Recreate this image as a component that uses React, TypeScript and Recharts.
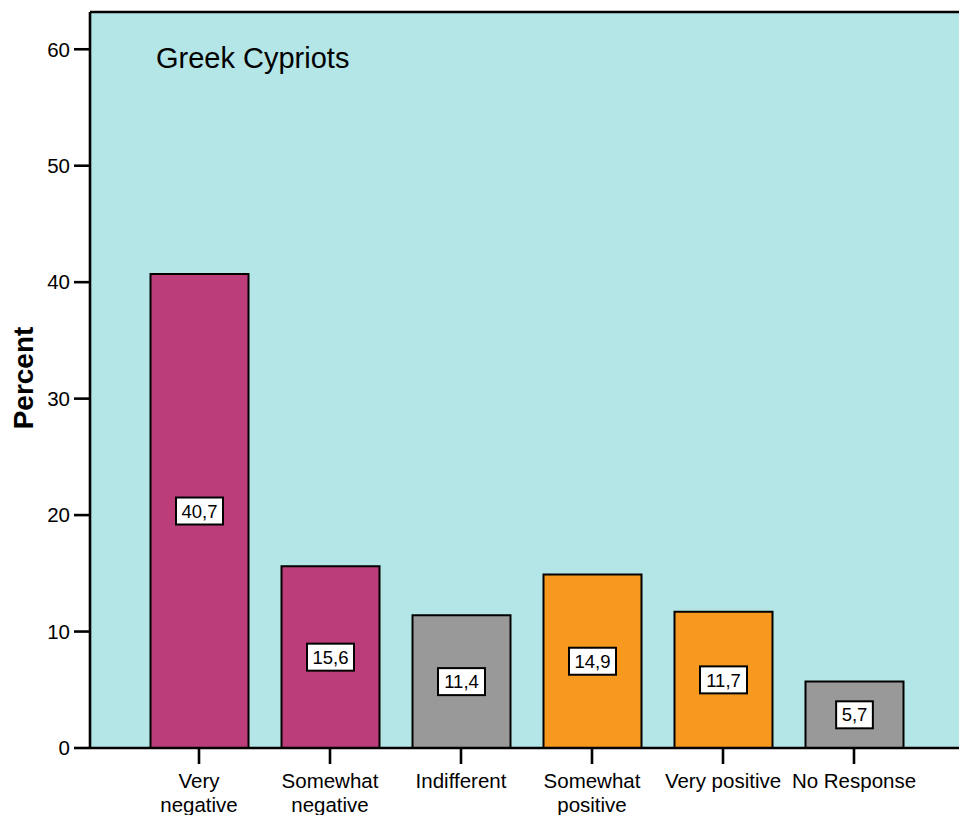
import React from "react";
import {
  BarChart,
  Bar,
  XAxis,
  YAxis,
  CartesianGrid,
  Cell,
  LabelList,
  ReferenceLine,
} from "recharts";

// Survey answers, share of respondents in percent
const categories = [
  "Very negative",
  "Somewhat negative",
  "Indifferent",
  "Somewhat positive",
  "Very positive",
  "No Response",
];
const percents = [40.7, 15.6, 11.4, 14.9, 11.7, 5.7];
const tickLines = [
  ["Very", "negative"],
  ["Somewhat", "negative"],
  ["Indifferent"],
  ["Somewhat", "positive"],
  ["Very positive"],
  ["No Response"],
];
const yTicks = [0, 10, 20, 30, 40, 50, 60];
const title = "Greek Cypriots";
const yTitle = "Percent";

const MAGENTA = "#BB3E7B";
const GRAY = "#999999";
const ORANGE = "#F7991F";
const barColors = [MAGENTA, MAGENTA, GRAY, ORANGE, ORANGE, GRAY];

const FONT = "'Liberation Sans', Arial, Helvetica, sans-serif";
const Y_MAX = 63.2;
const TICK_FS = 20.5;

const data = categories.map((name, i) => ({ name, value: percents[i], idx: i }));

const CategoryTick = (props: any) => {
  const { x, y, index } = props;
  const lines = tickLines[index] || [categories[index]];
  return (
    <text
      x={x}
      y={y}
      textAnchor="middle"
      fontFamily={FONT}
      fontSize={TICK_FS}
      fill="#000"
    >
      {lines.map((ln, i) => (
        <tspan key={i} x={x} dy={i === 0 ? 22 : 23.5}>
          {ln}
        </tspan>
      ))}
    </text>
  );
};

const ValueBox = (props: any) => {
  const { x, y, width, height, value } = props;
  const text = Number(value).toFixed(1).replace(".", ",");
  const fs = 18.5;
  let w = 0;
  for (const ch of text) w += ch === "," ? 0.278 * fs : 0.556 * fs;
  const bw = w + 11;
  const bh = 27;
  const cx = x + width / 2;
  const cy = y + height / 2;
  return (
    <g>
      <rect
        x={cx - bw / 2}
        y={cy - bh / 2}
        width={bw}
        height={bh}
        fill="#fff"
        stroke="#000"
        strokeWidth={2}
      />
      <text
        x={cx}
        y={cy + fs * 0.36}
        textAnchor="middle"
        fontFamily={FONT}
        fontSize={fs}
        fill="#000"
      >
        {text}
      </text>
    </g>
  );
};

export default function App() {
  return (
    <div
      style={{
        position: "fixed",
        left: 0,
        top: 0,
        width: 959,
        height: 815,
        overflow: "hidden",
        background: "#fff",
      }}
    >
      <BarChart
        width={1010}
        height={860}
        data={data}
        margin={{ top: 12, right: 46, bottom: 52, left: 0 }}
        barSize={98}
      >
        <CartesianGrid
          fill="#B4E6E7"
          fillOpacity={1}
          horizontal={false}
          vertical={false}
          stroke="none"
        />
        <XAxis
          dataKey="name"
          height={60}
          padding={{ left: 43.5, right: 44.5 }}
          axisLine={{ stroke: "#000", strokeWidth: 2.6 }}
          tickLine={{ stroke: "#000", strokeWidth: 2.6 }}
          tickSize={16}
          tickMargin={2}
          interval={0}
          tick={<CategoryTick />}
        />
        <YAxis
          width={90}
          domain={[0, Y_MAX]}
          ticks={yTicks}
          allowDataOverflow
          axisLine={{ stroke: "#000", strokeWidth: 2.6 }}
          tickLine={{ stroke: "#000", strokeWidth: 2.6 }}
          tickSize={16}
          tickMargin={4}
          tick={{ fill: "#000", fontSize: TICK_FS, fontFamily: FONT }}
        />
        <ReferenceLine
          y={Y_MAX}
          stroke="#000"
          strokeWidth={2.6}
          ifOverflow="visible"
        />
        <Bar
          dataKey="value"
          stroke="#000"
          strokeWidth={2}
          isAnimationActive={false}
        >
          {data.map((d) => (
            <Cell key={d.name} fill={barColors[d.idx]} />
          ))}
          <LabelList dataKey="value" content={<ValueBox />} />
        </Bar>
      </BarChart>
      <svg
        width={959}
        height={815}
        style={{ position: "absolute", left: 0, top: 0, pointerEvents: "none" }}
      >
        <text x={156} y={68} fontFamily={FONT} fontSize={29} fill="#000">
          {title}
        </text>
        <text
          transform="translate(33,378) rotate(-90)"
          textAnchor="middle"
          fontFamily={FONT}
          fontSize={28}
          fontWeight="bold"
          fill="#000"
        >
          {yTitle}
        </text>
      </svg>
    </div>
  );
}
